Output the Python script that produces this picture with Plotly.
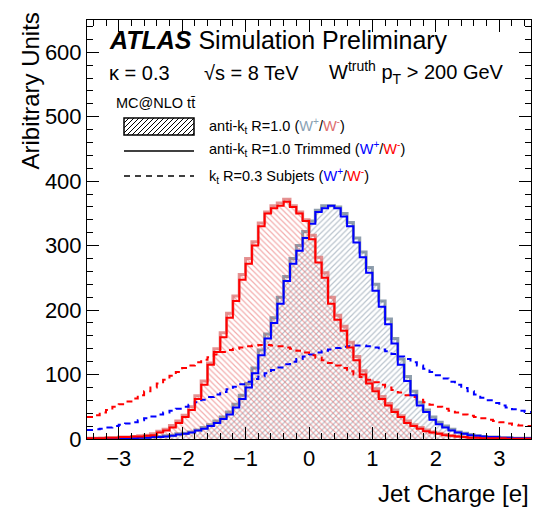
import plotly.graph_objects as go

# ---------------- data ----------------
x_min, x_max, n_bins = -3.5, 3.5, 70

# W- (red), anti-kt R=1.0 ungroomed
wm_ungroomed = [1, 1, 1.5, 2, 2, 3, 3, 4, 5, 6,
                8, 12, 15, 21, 28, 37, 50, 67, 90, 118,
                140, 165, 195, 222, 255, 280, 306, 335, 352, 362,
                366, 372, 362, 352, 340, 316, 282, 258, 220, 192,
                175, 150, 128, 106, 90, 78, 66, 55, 45, 36,
                28, 22, 18, 14, 11, 9, 7, 5, 4, 3,
                2, 2, 1, 1, 1, 1, 0.5, 0.5, 0.3, 0.3]
# W+ (grey), anti-kt R=1.0 ungroomed
wp_ungroomed = [0.5, 0.5, 0.5, 1, 1, 1, 1, 2, 2, 2,
                3, 4, 5, 6, 8, 9, 11, 14, 18, 22,
                28, 34, 42, 54, 68, 86, 110, 138, 163, 188,
                220, 252, 280, 300, 322, 338, 355, 362, 362, 360,
                350, 336, 312, 290, 266, 240, 214, 186, 156, 124,
                97, 74, 57, 45, 34, 26, 20, 15, 11, 9,
                7, 5, 4, 3, 3, 2, 2, 1, 1, 1]
# trimmed
wm_trimmed = [1, 1, 1, 2, 2, 3, 3, 4, 4, 5,
              6, 10, 13, 18, 25, 34, 45, 62, 84, 115,
              135, 158, 188, 214, 247, 272, 300, 330, 350, 358,
              362, 368, 360, 350, 338, 310, 274, 250, 210, 185,
              168, 142, 122, 100, 86, 74, 62, 52, 42, 34,
              25, 20, 16, 12, 10, 8, 6, 5, 4, 3,
              2, 2, 1, 1, 1, 1, 0.5, 0.5, 0.3, 0.3]
wp_trimmed = [0.3, 0.3, 0.5, 0.5, 1, 1, 1, 1, 2, 2,
              3, 3, 4, 5, 7, 8, 10, 13, 16, 20,
              25, 31, 38, 49, 62, 80, 102, 130, 156, 180,
              210, 245, 272, 292, 312, 334, 352, 358, 362, 358,
              345, 330, 305, 282, 258, 230, 205, 178, 148, 115,
              90, 68, 52, 42, 30, 23, 18, 13, 10, 8,
              6, 5, 4, 3, 3, 2, 2, 1, 1, 1]
# kt R=0.3 subjets
wm_subjets = [34, 37, 41, 45, 50, 54, 58, 63, 68, 74,
              80, 86, 92, 98, 104, 110, 114, 119, 123, 127,
              131, 135, 138, 140, 142, 144, 145, 146, 146, 145,
              144, 142, 140, 137, 134, 130, 126, 122, 118, 114,
              110, 105, 100, 96, 92, 88, 84, 80, 76, 72,
              68, 65, 61, 57, 53, 50, 47, 44, 41, 38,
              36, 34, 32, 30, 28, 26, 24, 22, 21, 20]
wp_subjets = [14, 15, 16, 18, 20, 22, 24, 26, 29, 32,
              35, 38, 41, 44, 47, 50, 53, 57, 61, 65,
              69, 73, 77, 81, 85, 89, 93, 97, 102, 107,
              111, 116, 120, 124, 128, 131, 134, 137, 139, 141,
              143, 144, 145, 145, 144, 142, 139, 136, 132, 128,
              124, 119, 114, 109, 104, 99, 94, 89, 84, 79,
              74, 69, 64, 60, 56, 52, 49, 46, 44, 42]

x_ticks = [-3, -2, -1, 0, 1, 2, 3]
y_ticks = [0, 100, 200, 300, 400, 500, 600]

# ---------------- figure ----------------
W, H = 533, 510
L, R, T, B = 87, 2, 20, 71
PW, PH = W - L - R, H - T - B
FONT = "Liberation Sans, Arial, Helvetica, sans-serif"

edges = [x_min + i * (x_max - x_min) / n_bins for i in range(n_bins + 1)]


def step_y(vals):
    return list(vals) + [vals[-1]]


def px(xp):
    return (xp - L) / PW


def py(yp):
    return (H - B - yp) / PH


fig = go.Figure()

fig.add_trace(go.Scatter(
    x=edges, y=step_y(wp_ungroomed), mode="lines", line_shape="hv",
    line=dict(color="rgba(105,125,145,0.75)", width=3),
    fill="tozeroy", fillcolor="rgba(0,0,0,0)",
    fillpattern=dict(shape="/", fgcolor="rgba(110,130,150,0.95)", size=4, solidity=0.3),
    showlegend=False, hoverinfo="skip"))
fig.add_trace(go.Scatter(
    x=edges, y=step_y(wm_ungroomed), mode="lines", line_shape="hv",
    line=dict(color="rgba(220,110,110,0.75)", width=3),
    fill="tozeroy", fillcolor="rgba(0,0,0,0)",
    fillpattern=dict(shape="\\", fgcolor="rgba(230,80,80,0.95)", size=4, solidity=0.3),
    showlegend=False, hoverinfo="skip"))
fig.add_trace(go.Scatter(
    x=edges, y=step_y(wp_subjets), mode="lines", line_shape="hv",
    line=dict(color="#0000ff", width=2, dash="6px,5px"),
    showlegend=False, hoverinfo="skip"))
fig.add_trace(go.Scatter(
    x=edges, y=step_y(wm_subjets), mode="lines", line_shape="hv",
    line=dict(color="#ff0000", width=2, dash="6px,5px"),
    showlegend=False, hoverinfo="skip"))
fig.add_trace(go.Scatter(
    x=edges, y=step_y(wp_trimmed), mode="lines", line_shape="hv",
    line=dict(color="#0000ff", width=2),
    showlegend=False, hoverinfo="skip"))
fig.add_trace(go.Scatter(
    x=edges, y=step_y(wm_trimmed), mode="lines", line_shape="hv",
    line=dict(color="#ff0000", width=2),
    showlegend=False, hoverinfo="skip"))

axis_common = dict(
    showline=True, linecolor="black", linewidth=1, mirror="allticks",
    ticks="inside", tickcolor="black", tickwidth=1, ticklen=12,
    showgrid=False, zeroline=False,
    tickfont=dict(family=FONT, size=22, color="black"),
)
fig.update_xaxes(range=[x_min, x_max], tickvals=x_ticks,
                 minor=dict(dtick=0.2, ticks="inside", ticklen=6, tickcolor="black"),
                 **axis_common)
fig.update_yaxes(range=[0, 650], tickvals=y_ticks,
                 minor=dict(dtick=20, ticks="inside", ticklen=6, tickcolor="black"),
                 **axis_common)

ann = []


def text(xp, yp, s, size, anchor="left", color="black", angle=0):
    ann.append(dict(x=px(xp), y=py(yp), xref="paper", yref="paper", text=s,
                    showarrow=False, xanchor=anchor, yanchor="middle", textangle=angle,
                    font=dict(family=FONT, size=size, color=color)))


text(107, 40, "<b><i>ATLAS</i></b> Simulation Preliminary", 25)
text(107, 73, "κ = 0.3", 20)
text(202, 73, "√s = 8 TeV", 20)
text(327, 73, "W<sup>truth</sup> p<sub>T</sub> &gt; 200 GeV", 20)
text(114, 103, "MC@NLO tt\u0304", 14.5)
text(207, 126, "anti-k<sub>t</sub> R=1.0 (<span style='color:#8aa2b4'>W<sup>+</sup></span>/"
     "<span style='color:#dd6f6f'>W<sup>-</sup></span>)", 14.5)
text(207, 149, "anti-k<sub>t</sub> R=1.0 Trimmed (<span style='color:#0000ff'>W<sup>+</sup></span>/"
     "<span style='color:#ff0000'>W<sup>-</sup></span>)", 14.5)
text(207, 176, "k<sub>t</sub> R=0.3 Subjets (<span style='color:#0000ff'>W<sup>+</sup></span>/"
     "<span style='color:#ff0000'>W<sup>-</sup></span>)", 14.5)
text(531, 493, "Jet Charge [e]", 24, anchor="right")
ann.append(dict(x=px(30), y=py(11), xref="paper", yref="paper", text="Aribitrary Units",
                showarrow=False, xanchor="center", yanchor="top", textangle=-90,
                font=dict(family=FONT, size=24, color="black")))

shapes = []
# legend: hatched box
bx0, bx1, by0, by1 = 124, 194, 118, 135
shapes.append(dict(type="rect", xref="paper", yref="paper",
                   x0=px(bx0), x1=px(bx1), y0=py(by1), y1=py(by0),
                   line=dict(color="black", width=1.5), fillcolor="white"))
segs = []
hh = by1 - by0
o = bx0 - hh
while o < bx1:
    xa, ya = o, by1
    xb, yb = o + hh, by0
    if xa < bx0:
        ya = by1 - (bx0 - xa)
        xa = bx0
    if xb > bx1:
        yb = by0 + (xb - bx1)
        xb = bx1
    if xb > xa:
        segs.append(f"M{px(xa)},{py(ya)} L{px(xb)},{py(yb)}")
    o += 5
shapes.append(dict(type="path", xref="paper", yref="paper", path=" ".join(segs),
                   line=dict(color="black", width=1)))
# legend: solid and dashed lines
shapes.append(dict(type="line", xref="paper", yref="paper",
                   x0=px(124), x1=px(194), y0=py(151), y1=py(151),
                   line=dict(color="black", width=1.5)))
shapes.append(dict(type="line", xref="paper", yref="paper",
                   x0=px(124), x1=px(194), y0=py(176), y1=py(176),
                   line=dict(color="black", width=1.5, dash="6px,5px")))

fig.update_layout(
    width=W, height=H,
    margin=dict(l=L, r=R, t=T, b=B),
    paper_bgcolor="white", plot_bgcolor="white",
    annotations=ann, shapes=shapes,
    showlegend=False,
)

fig.write_html("out.html", config={"displayModeBar": False},
               post_script="document.body.style.margin='0';")
